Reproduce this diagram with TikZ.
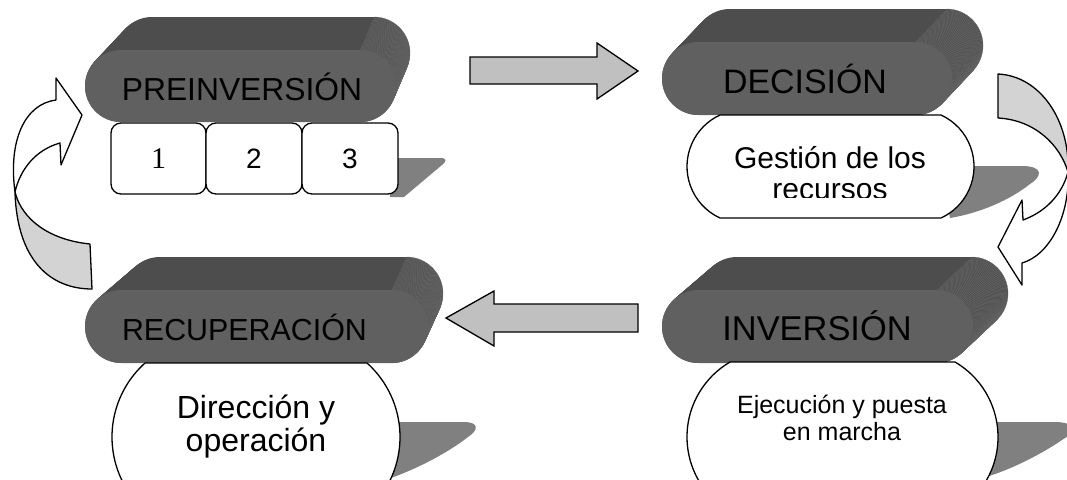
\documentclass[tikz,border=0pt]{standalone}
\usepackage{fontspec}
\setmainfont{Liberation Sans}
\newfontfamily\serifuno{Liberation Serif}

\definecolor{tapa}{HTML}{4D4D4D}
\definecolor{frente}{HTML}{606060}
\definecolor{raya}{HTML}{6C6C6C}
\definecolor{grissombra}{HTML}{808080}
\definecolor{flechagris}{HTML}{C0C0C0}
\definecolor{grisgiro}{HTML}{D3D3D3}

\tikzstyle{titulo}=[anchor=base, inner sep=0pt]
\tikzstyle{casilla}=[draw, fill=white, rectangle, rounded corners=10pt, line width=1.3pt, minimum height=71pt, inner sep=0pt, font=\fontsize{28}{30}\selectfont]
\tikzstyle{texto}=[align=center, inner sep=0pt]
\tikzstyle{caja}=[draw, fill=white, line width=1.3pt]
\tikzstyle{sombra}=[fill=grissombra, draw=none]
\tikzstyle{flecha}=[fill=flechagris, draw=black, line width=1.3pt, line join=miter]
\tikzstyle{giro}=[draw=black, line width=1.3pt]

% cabecera 3D: centros del fondo, centros del frente, radio
\newcommand{\cabecera}[7]{%
  \foreach \paso in {0,0.025,...,1}{
    \pgfmathsetmacro\ca{#1+\paso*(#4-#1)}
    \pgfmathsetmacro\cb{#2+\paso*(#5-#2)}
    \pgfmathsetmacro\cc{#3+\paso*(#6-#3)}
    \fill[tapa, rounded corners=#7pt] (\ca-#7,\cc-#7) rectangle (\cb+#7,\cc+#7);
    \draw[raya, line width=0.3pt] (\cb,\cc-#7) arc[start angle=-90, end angle=90, radius=#7];
  }
  \fill[frente, rounded corners=#7pt] (#4-#7,#6-#7) rectangle (#5+#7,#6+#7);
}

% caja con extremos en arco: x1 y1 x2 y2 flecha del arco
\newcommand{\cajarco}[5]{%
  \pgfmathsetmacro\ch{(#4-#2)/2}
  \pgfmathsetmacro\cR{(\ch*\ch+#5*#5)/(2*#5)}
  \pgfmathsetmacro\cT{asin(\ch/\cR)}
  \draw[caja] (#1+#5,#2) -- (#3-#5,#2)
    arc[start angle=-\cT, end angle=\cT, radius=\cR] -- (#1+#5,#4)
    arc[start angle=180-\cT, end angle=180+\cT, radius=\cR] -- cycle;
}

\begin{document}
\begin{tikzpicture}[x=1pt, y=-1pt, line join=round]
  \clip (0,0) rectangle (1067,479);

  % cabeceras
  \cabecera{152}{374}{53}{121}{360}{86}{36}
  \cabecera{730}{946.5}{45.5}{698.5}{915.5}{78.5}{36.5}
  \cabecera{160}{406.5}{293.5}{121.5}{391.5}{326.5}{36.5}
  \cabecera{737}{971.5}{293.5}{698.5}{936.5}{326.5}{36.5}

  \node[titulo, font=\fontsize{31.8}{34}\selectfont] (pre) at (242,100) {PREINVERSIÓN};
  \node[titulo, font=\fontsize{33.9}{36}\selectfont] (dec) at (805,93) {DECISIÓN};
  \node[titulo, font=\fontsize{30.4}{33}\selectfont] (rec) at (244.5,340) {RECUPERACIÓN};
  \node[titulo, font=\fontsize{34.4}{37}\selectfont] (inv) at (817,340) {INVERSIÓN};

  % sombras
  \path[sombra] (390,158) -- (440,158) .. controls (447,158) and (447,161) .. (442,165)
    -- (404,197) -- (390,197) -- cycle;
  \path[sombra] (940,166) -- (1022,166) .. controls (1043,166) and (1043,176) .. (1030,184)
    .. controls (1010,200) and (980,213) .. (950,218) -- cycle;
  \path[sombra] (390,422) -- (464,422) .. controls (479,422) and (479,430) .. (468,437)
    .. controls (445,455) and (410,472) .. (385,480) -- cycle;
  \path[sombra] (990,422) -- (1055,422) .. controls (1076,422) and (1076,432) .. (1062,440)
    .. controls (1040,455) and (1005,473) .. (975,480) -- cycle;

  % fases
  \node[casilla, minimum width=95pt, font=\serifuno\fontsize{30}{32}\selectfont] (uno) at (158.5,158.5) {1};
  \node[casilla, minimum width=96pt] (dos) at (254,158.5) {2};
  \node[casilla, minimum width=96pt] (tres) at (350,158.5) {3};

  \cajarco{687}{115}{974}{218}{33}
  \cajarco{112}{363}{400}{511}{33}
  \cajarco{687}{362}{998}{512}{43}

  \begin{scope}
    \clip (687,100) rectangle (974,197);
    \node[texto, font=\fontsize{30}{31}\selectfont] (gest) at (830,173) {Gestión de los\\recursos};
  \end{scope}
  \node[texto, font=\fontsize{32}{33}\selectfont] (dir) at (256,427) {Dirección y\\operación};
  \node[texto, font=\fontsize{25}{27}\selectfont] (eje) at (842,418.4) {Ejecución y puesta\\en marcha};

  % flechas rectas
  \draw[flecha] (470,57) -- (597,57) -- (597,43) -- (638,71) -- (597,99) -- (597,84) -- (470,84) -- cycle;
  \draw[flecha] (638,304) -- (494,304) -- (494,291) -- (446,318) -- (494,346) -- (494,332) -- (638,332) -- cycle;

  % flecha curva izquierda
  \draw[giro, fill=grisgiro] (92,289) -- (90,244) .. controls (50,240) and (22,220) .. (15,192)
    .. controls (17,260) and (50,289) .. (92,289) -- cycle;
  \draw[giro, fill=white] (15,192) .. controls (8,140) and (25,104) .. (56,100)
    -- (56,78) -- (82,115) -- (61,165) -- (60,143)
    .. controls (35,150) and (20,170) .. (15,192) -- cycle;

  % flecha curva derecha
  \draw[giro, fill=grisgiro] (998,118) -- (998,74) .. controls (1040,76) and (1070,120) .. (1068,172)
    .. controls (1060,145) and (1035,120) .. (998,118) -- cycle;
  \draw[giro, fill=white] (1068,172) .. controls (1070,215) and (1050,255) .. (1022,263)
    -- (1022,285) -- (998,247) -- (1022,200) -- (1023,220)
    .. controls (1045,212) and (1062,195) .. (1068,172) -- cycle;
\end{tikzpicture}
\end{document}
